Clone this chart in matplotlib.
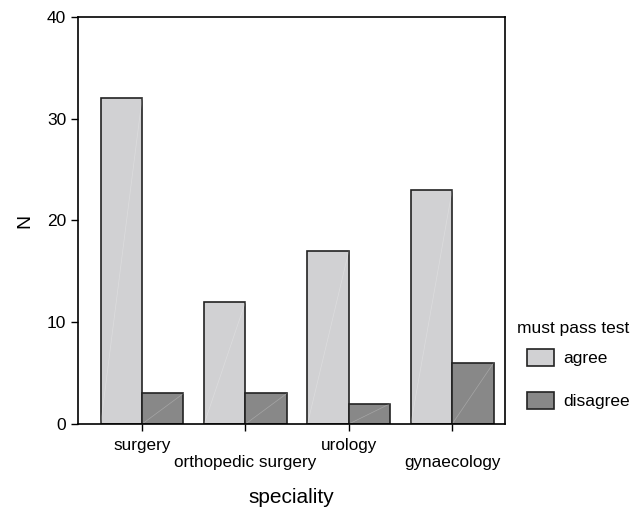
import matplotlib as mpl
mpl.use('Agg')
import matplotlib.pyplot as plt
import numpy as np

plt.rcParams['font.family'] = ['Liberation Sans', 'DejaVu Sans']

# données
specialites = ["surgery", "orthopedic surgery", "urology", "gynaecology"]
agree = [32, 12, 17, 23]
disagree = [3, 3, 2, 6]

fig = plt.figure(figsize=(6.41, 5.07), dpi=100)
ax = fig.add_axes([0.1217, 0.1637, 0.666, 0.803])

x = np.arange(len(specialites))
w = 0.4
b1 = ax.bar(x - w/2, agree, w, color="#d1d1d3", edgecolor="#222222", linewidth=1.2, label="agree")
b2 = ax.bar(x + w/2, disagree, w, color="#888888", edgecolor="#222222", linewidth=1.2, label="disagree")

# petite diagonale claire dans chaque barre
for p in list(b1.patches) + list(b2.patches):
    x0, y0 = p.get_x(), p.get_y()
    ax.plot([x0, x0 + p.get_width()], [y0, y0 + p.get_height()],
            color="#ffffff", lw=0.5, alpha=0.25, zorder=1.5)

ax.set_xlim(-0.62, 3.51)
ax.set_ylim(0, 40)
ax.set_yticks([0, 10, 20, 30, 40])
ax.tick_params(axis='y', labelsize=12.5, length=5, width=1)
ax.set_xticks(x)
ax.set_xticklabels(["surgery", "\northopedic surgery", "urology", "\ngynaecology"], fontsize=12.3)
ax.tick_params(axis='x', length=5, width=1, pad=5)
for s in ax.spines.values():
    s.set_linewidth(1.2)

ax.set_xlabel("speciality", fontsize=15, labelpad=13)
ax.set_ylabel("N", fontsize=14, labelpad=10)

# légende
fig.text(517/641, 1 - 329/507, "must pass test", fontsize=12.5, va="center", ha="left")
leg = fig.legend(handles=[b1, b2], loc="upper left",
                 bbox_to_anchor=(527/641, 1 - 349/507), frameon=False, fontsize=12.5,
                 handlelength=1.55, handleheight=1.15, borderpad=0,
                 labelspacing=1.45, handletextpad=0.55, borderaxespad=0)

plt.savefig('out.png', dpi=100)
